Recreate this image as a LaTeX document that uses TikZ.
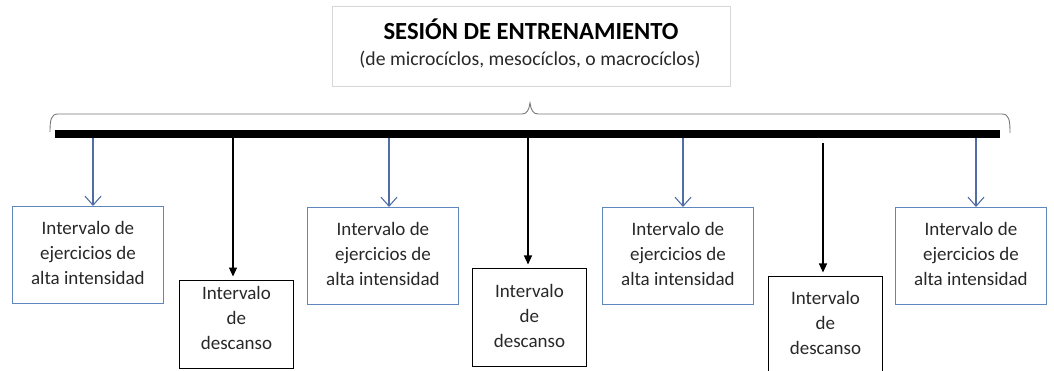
\documentclass[tikz,border=0pt]{standalone}
\usepackage{fontspec}
\setmainfont{Carlito}
\usetikzlibrary{arrows.meta}
\definecolor{bluebox}{RGB}{95,135,190}
\definecolor{bluearr}{RGB}{80,110,165}
\definecolor{titlegray}{RGB}{215,215,215}
\definecolor{bracegray}{RGB}{120,120,120}
\definecolor{txt}{RGB}{40,40,40}
\begin{document}
\begin{tikzpicture}[x=1pt,y=-1pt,
  hibox/.style={draw=bluebox, line width=0.9pt, minimum width=151pt, minimum height=97pt,
    align=center, text=txt, font=\fontsize{19}{25}\selectfont, inner sep=0pt, text depth=5pt, anchor=north west},
  restbox/.style={draw=black, line width=0.9pt, minimum width=114pt, minimum height=88pt,
    align=center, text=txt, font=\fontsize{19}{25}\selectfont, inner sep=0pt, text depth=14pt, anchor=north west},
  bluearrow/.style={draw=bluearr, line width=1.1pt, -{Straight Barb[length=9pt,width=16pt]}},
  blackarrow/.style={draw=black, line width=1.1pt, -{Triangle[length=9pt,width=8pt]}, shorten >=3.5pt},
  bar/.style={line width=8pt, black},
  bracestyle/.style={draw=bracegray, line width=0.9pt}
]
\useasboundingbox (0,0) rectangle (1054,371);
\clip (0,0) rectangle (1054,371);

% title box
\node[draw=titlegray, line width=0.8pt, minimum width=398pt, minimum height=80pt, anchor=north west, inner sep=0pt] (title) at (332,6) {};
\node[font=\fontsize{24.6}{28}\bfseries, text=black, anchor=base] (titletext) at (531,40) {SESIÓN DE ENTRENAMIENTO};
\node[font=\fontsize{19.7}{22}\selectfont, text=txt, anchor=base] (subtext) at (530,66) {(de microcíclos, mesocíclos, o macrocíclos)};

% brace
\draw[bracestyle] (50,132) .. controls (50,120) and (51,114) .. (58,114) -- (522,114)
  .. controls (527,114) and (529,110) .. (530,103)
  .. controls (531,110) and (533,114) .. (538,114) -- (1002,114)
  .. controls (1009,114) and (1010,120) .. (1010,133);

% bar
\coordinate (barL) at (55,134);
\coordinate (barR) at (1000,134);
\draw[bar] (barL) -- (barR);

% boxes
\node[hibox] (h1) at (12,206) {Intervalo de\\ejercicios de\\alta intensidad};
\node[hibox] (h2) at (307,207) {Intervalo de\\ejercicios de\\alta intensidad};
\node[hibox] (h3) at (602,207) {Intervalo de\\ejercicios de\\alta intensidad};
\node[hibox] (h4) at (895,207) {Intervalo de\\ejercicios de\\alta intensidad};

\node[restbox] (r1) at (179,280) {Intervalo\\de\\descanso};
\node[restbox, minimum height=98pt, text depth=4pt] (r2) at (472,268) {Intervalo\\de\\descanso};
\node[restbox, minimum height=104pt, text depth=12pt] (r3) at (768,276) {Intervalo\\de\\descanso};

% arrow starts
\coordinate (s1) at (93,138);
\coordinate (s2) at (389,138);
\coordinate (s3) at (683,138);
\coordinate (s4) at (976,138);
\coordinate (k1) at (233,138);
\coordinate (k2) at (528,138);
\coordinate (k3) at (823,143);

\draw[bluearrow] (s1) -- (s1 |- h1.north);
\draw[bluearrow] (s2) -- (s2 |- h2.north);
\draw[bluearrow] (s3) -- (s3 |- h3.north);
\draw[bluearrow] (s4) -- (s4 |- h4.north);

\draw[blackarrow] (k1) -- (k1 |- r1.north);
\draw[blackarrow] (k2) -- (k2 |- r2.north);
\draw[blackarrow] (k3) -- (k3 |- r3.north);
\end{tikzpicture}
\end{document}
